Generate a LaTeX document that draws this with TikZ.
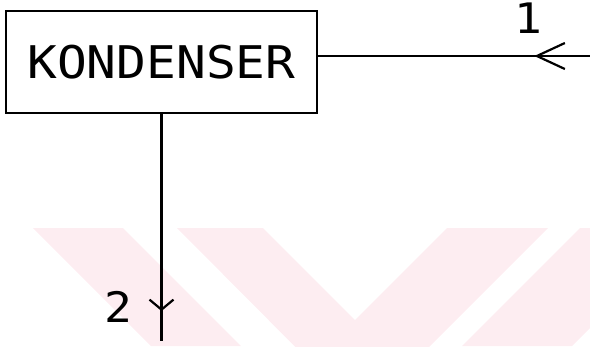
\documentclass[tikz,border=0pt]{standalone}
\usepackage{fontspec}
\newfontfamily\plotfont[FakeStretch=1.1]{DejaVu Sans Mono}
\usetikzlibrary{arrows.meta,decorations.markings}
\definecolor{wmpink}{RGB}{253,237,241}

\begin{document}
\begin{tikzpicture}[
    x=1pt, y=-1pt,
    unit/.style={draw, line width=2.2pt, minimum width=311pt, minimum height=102pt, inner sep=0pt, font=\plotfont\fontsize{45}{45}\selectfont},
    lbl/.style={font=\plotfont\fontsize{42}{42}\selectfont},
    flow/.style={line width=2.4pt},
    tipat/.style 2 args={postaction=decorate, decoration={markings, mark=at position #1 with {\arrow[line width=2.2pt]{#2}}}},
]
\useasboundingbox (0,0) rectangle (590,346);

% background stripes
\begin{scope}
  \clip (0,0) rectangle (590,346);
  \fill[wmpink] (33,228) -- (123,228) -- (241,346) -- (151,346) -- cycle;
  \fill[wmpink] (177,228) -- (263,228) -- (355,320) -- (447,228) -- (548,228) -- (362,414) -- cycle;
  \fill[wmpink] (580,228) -- (690,228) -- (572,346) -- (462,346) -- cycle;
\end{scope}

% condenser
\node[unit] (kond) at (161.5,62) {KONDENSER};

% stream 1 in
\coordinate (in1) at (590,56);
\draw[flow, tipat={0.205}{Straight Barb[length=28pt,width=26pt]}] (in1) -- (in1 -| kond.east);
\node[lbl] (l1) at (528,18) {1};

% stream 2 out
\coordinate (out2) at (161.5,341);
\draw[flow, tipat={0.868}{Straight Barb[length=10pt,width=24pt]}] (kond.south) -- (out2);
\node[lbl] (l2) at (118,307) {2};
\end{tikzpicture}
\end{document}
